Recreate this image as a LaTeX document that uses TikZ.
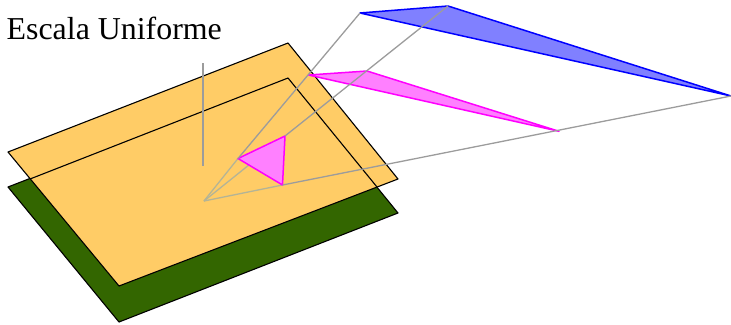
\documentclass[tikz,border=0pt]{standalone}
\usepackage{fontspec}
\setmainfont{Liberation Serif}
\definecolor{plano}{HTML}{FFCC66}
\definecolor{verde}{HTML}{336600}
\definecolor{mag}{HTML}{FF00FF}
\definecolor{magf}{HTML}{FF80FF}
\definecolor{azul}{HTML}{0000FF}
\definecolor{azulf}{HTML}{8080FF}
\definecolor{rayo}{HTML}{9C9C9C}
\definecolor{rayoc}{HTML}{B4B496}
\tikzset{
  planeedge/.style={draw=black,line width=1.1bp,line join=round},
  ray/.style={draw=rayo,line width=1.3bp},
  rayin/.style={draw=rayoc,line width=1.3bp},
  tri/.style={line width=1.5bp,line join=round},
}
\begin{document}
\begin{tikzpicture}[x=1bp,y=-1bp]
\useasboundingbox (0,0) rectangle (731,324);
% green plane
\coordinate (g1) at (8,187);
\coordinate (g2) at (288,78);
\coordinate (g3) at (398,213);
\coordinate (g4) at (119,322);
% orange plane
\coordinate (o1) at (8,152);
\coordinate (o2) at (288,43);
\coordinate (o3) at (398,179);
\coordinate (o4) at (119,286);
% where the orange plane's edges cross the outline of the green one
\coordinate (c1) at (30,179);
\coordinate (c2) at (377,187);
% projection
\coordinate (O) at (204,201);
\coordinate (up) at (203,63);
\coordinate (upb) at (203,166);
\coordinate (a) at (238,158.5);
\coordinate (b) at (285,136);
\coordinate (c) at (282.5,185);
\coordinate (m1) at (308.5,75);
\coordinate (m2) at (367,71);
\coordinate (m3) at (559,131.3);
\coordinate (z1) at (360,13);
\coordinate (z2) at (448,6);
\coordinate (z3) at (731,96);
\path[planeedge,fill=verde] (g1)--(g2)--(g3)--(g4)--cycle;
\path[planeedge,fill=plano] (o1)--(o2)--(o3)--(o4)--cycle;
\draw[planeedge] (c1)--(g2)--(c2);
\draw[ray] (up)--(upb);
\draw[rayin] (O)--(a);
\draw[rayin] (O)--(b);
\draw[rayin] (O)--(c);
\draw[tri,draw=azul,fill=azulf] (z1)--(z2)--(z3)--cycle;
\draw[tri,draw=mag,fill=magf] (m1)--(m2)--(m3)--cycle;
\draw[tri,draw=mag,fill=magf] (a)--(b)--(c)--cycle;
\draw[ray] (a)--(z1);
\draw[ray] (b)--(z2);
\draw[ray] (c)--(z3);
\node[anchor=base west,inner sep=0pt,font=\fontsize{32}{36}\selectfont] (titulo) at (6.5,39.5) {Escala Uniforme};
\end{tikzpicture}
\end{document}
